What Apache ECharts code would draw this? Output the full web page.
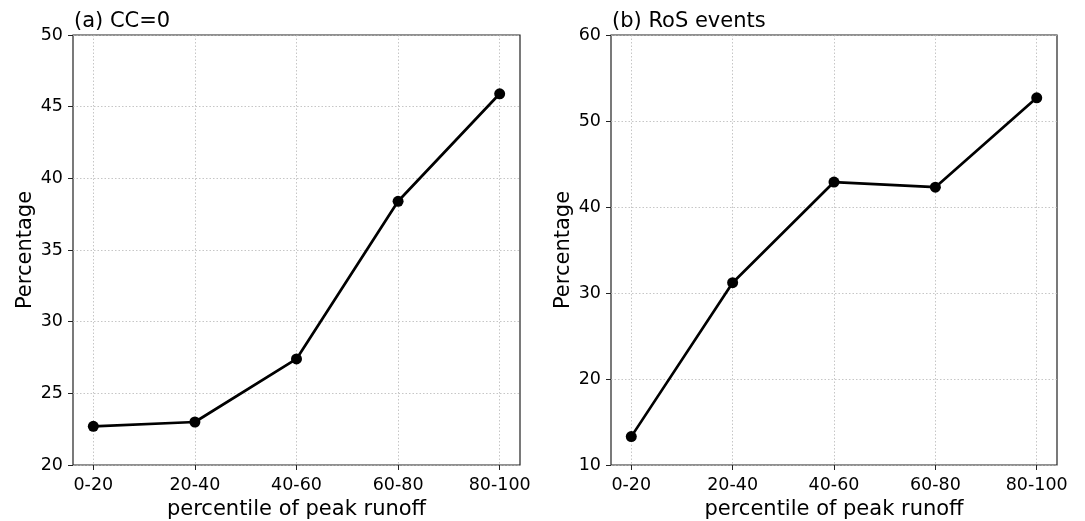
<!DOCTYPE html>
<html>
<head>
<meta charset="utf-8">
<script src="https://cdn.jsdelivr.net/npm/echarts@6/dist/echarts.min.js"></script>
<style>
  html, body { margin: 0; padding: 0; background: #fff; }
  #main { width: 1085px; height: 521px; }
</style>
</head>
<body>
<div id="main"></div>
<script>
// 数据
var categories = ['0-20', '20-40', '40-60', '60-80', '80-100'];
var ccZero = [22.7, 23.0, 27.4, 38.4, 45.9];
var rosEvents = [13.3, 31.2, 42.9, 42.3, 52.7];
var titles = ['(a) CC=0', '(b) RoS events'];

var font = 'DejaVu Sans';

function toPoints(arr) {
    return arr.map(function (v, i) { return [i, v]; });
}

function xAxisOf(idx) {
    return {
        type: 'value',
        gridIndex: idx,
        min: -0.2,
        max: 4.2,
        name: 'percentile of peak runoff',
        nameLocation: 'middle',
        nameGap: 26,
        nameTextStyle: { color: '#000', fontSize: 21, fontFamily: font },
        axisLine: { show: false, onZero: false },
        axisTick: {
            show: true, customValues: [0, 1, 2, 3, 4], length: 5,
            lineStyle: { color: '#222', width: 1 }
        },
        axisLabel: {
            customValues: [0, 1, 2, 3, 4], margin: 11,
            color: '#000', fontSize: 17.5, fontFamily: font,
            formatter: function (v) { return categories[Math.round(v)]; }
        },
        splitLine: {
            show: true,
            lineStyle: { color: '#b8b8b8', type: [1.5, 2], width: 0.8 }
        }
    };
}

function yAxisOf(idx, min, max, step, gap) {
    return {
        type: 'value',
        gridIndex: idx,
        min: min,
        max: max,
        interval: step,
        name: 'Percentage',
        nameLocation: 'middle',
        nameGap: gap,
        nameTextStyle: { color: '#000', fontSize: 21, fontFamily: font },
        axisLine: { show: false, onZero: false },
        axisTick: { show: true, length: 5, lineStyle: { color: '#222', width: 1 } },
        axisLabel: { margin: 10, color: '#000', fontSize: 17.5, fontFamily: font },
        splitLine: {
            show: true,
            lineStyle: { color: '#b8b8b8', type: [1.5, 2], width: 0.8 }
        }
    };
}

function seriesOf(idx, arr) {
    return {
        type: 'line',
        xAxisIndex: idx,
        yAxisIndex: idx,
        data: toPoints(arr),
        symbol: 'circle',
        symbolSize: 11,
        itemStyle: { color: '#000' },
        lineStyle: { color: '#000', width: 2.7 },
        animation: false
    };
}

var dom = document.getElementById('main');
var myChart = echarts.init(dom);
var option = {
    backgroundColor: '#fff',
    animation: false,
    title: [
        { text: titles[0], left: 69, top: 6, textStyle: { color: '#000', fontSize: 21, fontWeight: 'normal', fontFamily: font } },
        { text: titles[1], left: 607, top: 6, textStyle: { color: '#000', fontSize: 21, fontWeight: 'normal', fontFamily: font } }
    ],
    grid: [
        { left: 73, right: 565, top: 35, bottom: 56, outerBoundsMode: 'none', show: true, borderColor: '#222', borderWidth: 1.2 },
        { left: 611, right: 28, top: 35, bottom: 56, outerBoundsMode: 'none', show: true, borderColor: '#222', borderWidth: 1.2 }
    ],
    xAxis: [xAxisOf(0), xAxisOf(1)],
    yAxis: [yAxisOf(0, 20, 50, 5, 37), yAxisOf(1, 10, 60, 10, 37)],
    series: [seriesOf(0, ccZero), seriesOf(1, rosEvents)]
};
if (option && typeof option === "object") {
    myChart.setOption(option, true);
}
window.onresize = function () {
    myChart.resize();
};
</script>
</body>
</html>
